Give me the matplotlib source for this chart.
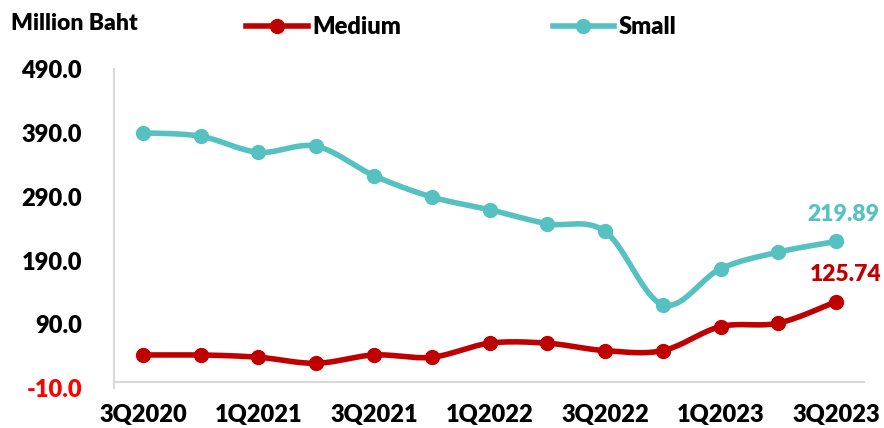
import numpy as np
import matplotlib.pyplot as plt

quarters = ["3Q2020", "4Q2020", "1Q2021", "2Q2021", "3Q2021", "4Q2021", "1Q2022",
            "2Q2022", "3Q2022", "4Q2022", "1Q2023", "2Q2023", "3Q2023"]
medium = [42.2, 42.2, 38.6, 29.2, 42.2, 38.6, 60.6, 60.6, 49.0, 49.0, 86.6, 92.0, 125.74]
small = [390.0, 384.7, 359.6, 369.0, 323.0, 289.6, 269.7, 247.7, 235.6, 120.7, 177.1, 203.3, 219.89]
yticks = [-10, 90, 190, 290, 390, 490]

RED = "#C00000"
TEAL = "#56C1C1"
GRID = "#D9D9D9"
W = 'heavy'

plt.rcParams['font.family'] = ['Lato', 'DejaVu Sans']
plt.rcParams['font.weight'] = W


def smooth(y, n=20):
    # catmull-rom style bezier, similar to office "smoothed line"
    y = np.asarray(y, dtype=float)
    x = np.arange(len(y), dtype=float)
    pts = np.column_stack([x, y])
    pad = np.vstack([pts[0], pts, pts[-1]])
    out = []
    t = np.linspace(0, 1, n)[:, None]
    for i in range(len(pts) - 1):
        p0, p1, p2, p3 = pad[i], pad[i + 1], pad[i + 2], pad[i + 3]
        c1 = p1 + (p2 - p0) / 6
        c2 = p2 - (p3 - p1) / 6
        seg = ((1 - t) ** 3) * p1 + 3 * ((1 - t) ** 2) * t * c1 + 3 * (1 - t) * t ** 2 * c2 + t ** 3 * p2
        out.append(seg if i == 0 else seg[1:])
    out = np.vstack(out)
    return out[:, 0], out[:, 1]


fig = plt.figure(figsize=(8.84, 4.28), dpi=100)
ax = fig.add_axes([0.129, 0.0928, 0.8495, 0.746])

x = np.arange(len(quarters))
for vals, col, name in [(medium, RED, "Medium"), (small, TEAL, "Small")]:
    sx, sy = smooth(vals)
    ax.plot(sx, sy, color=col, lw=4, solid_capstyle='round', zorder=3)
    ax.plot(x, vals, 'o', color=col, ms=10, zorder=4)
    ax.plot([], [], color=col, lw=4, marker='o', ms=10, label=name)

ax.annotate(f"{small[-1]:.2f}", (x[-1], small[-1]), xytext=(5, 12), textcoords='offset points',
            ha='center', va='bottom', color=TEAL, fontsize=16.5, fontweight=W)
ax.annotate(f"{medium[-1]:.2f}", (x[-1], medium[-1]), xytext=(7, 12), textcoords='offset points',
            ha='center', va='bottom', color=RED, fontsize=16.5, fontweight=W)

ax.set_xlim(-0.5, len(quarters) - 0.5)
ax.set_ylim(-10, 490)
ax.set_yticks(yticks)
ax.set_yticklabels([f"{v:.1f}" for v in yticks], fontweight=W, fontsize=17)
for lab, v in zip(ax.get_yticklabels(), yticks):
    if v < 0:
        lab.set_color("#FF0000")
ax.set_xticks(x[::2])
ax.set_xticklabels(quarters[::2], fontweight=W, fontsize=17)
ax.tick_params(axis='y', length=0, pad=23)
ax.tick_params(axis='x', length=0, pad=11)

for s in ['top', 'right', 'bottom']:
    ax.spines[s].set_visible(False)
ax.spines['left'].set_color(GRID)
ax.spines['left'].set_linewidth(1.5)
ax.axhline(0, color=GRID, lw=1.5, zorder=1)

fig.text(0.013, 0.944, "Million Baht", fontsize=16.5, fontweight=W, va='center', ha='left')
fig.legend(loc='center', bbox_to_anchor=(0.522, 0.937), ncol=2, frameon=False,
           handlelength=2.6, columnspacing=6.4, handletextpad=0.2,
           prop={'weight': W, 'size': 17})

fig.savefig("out.png", dpi=100)
